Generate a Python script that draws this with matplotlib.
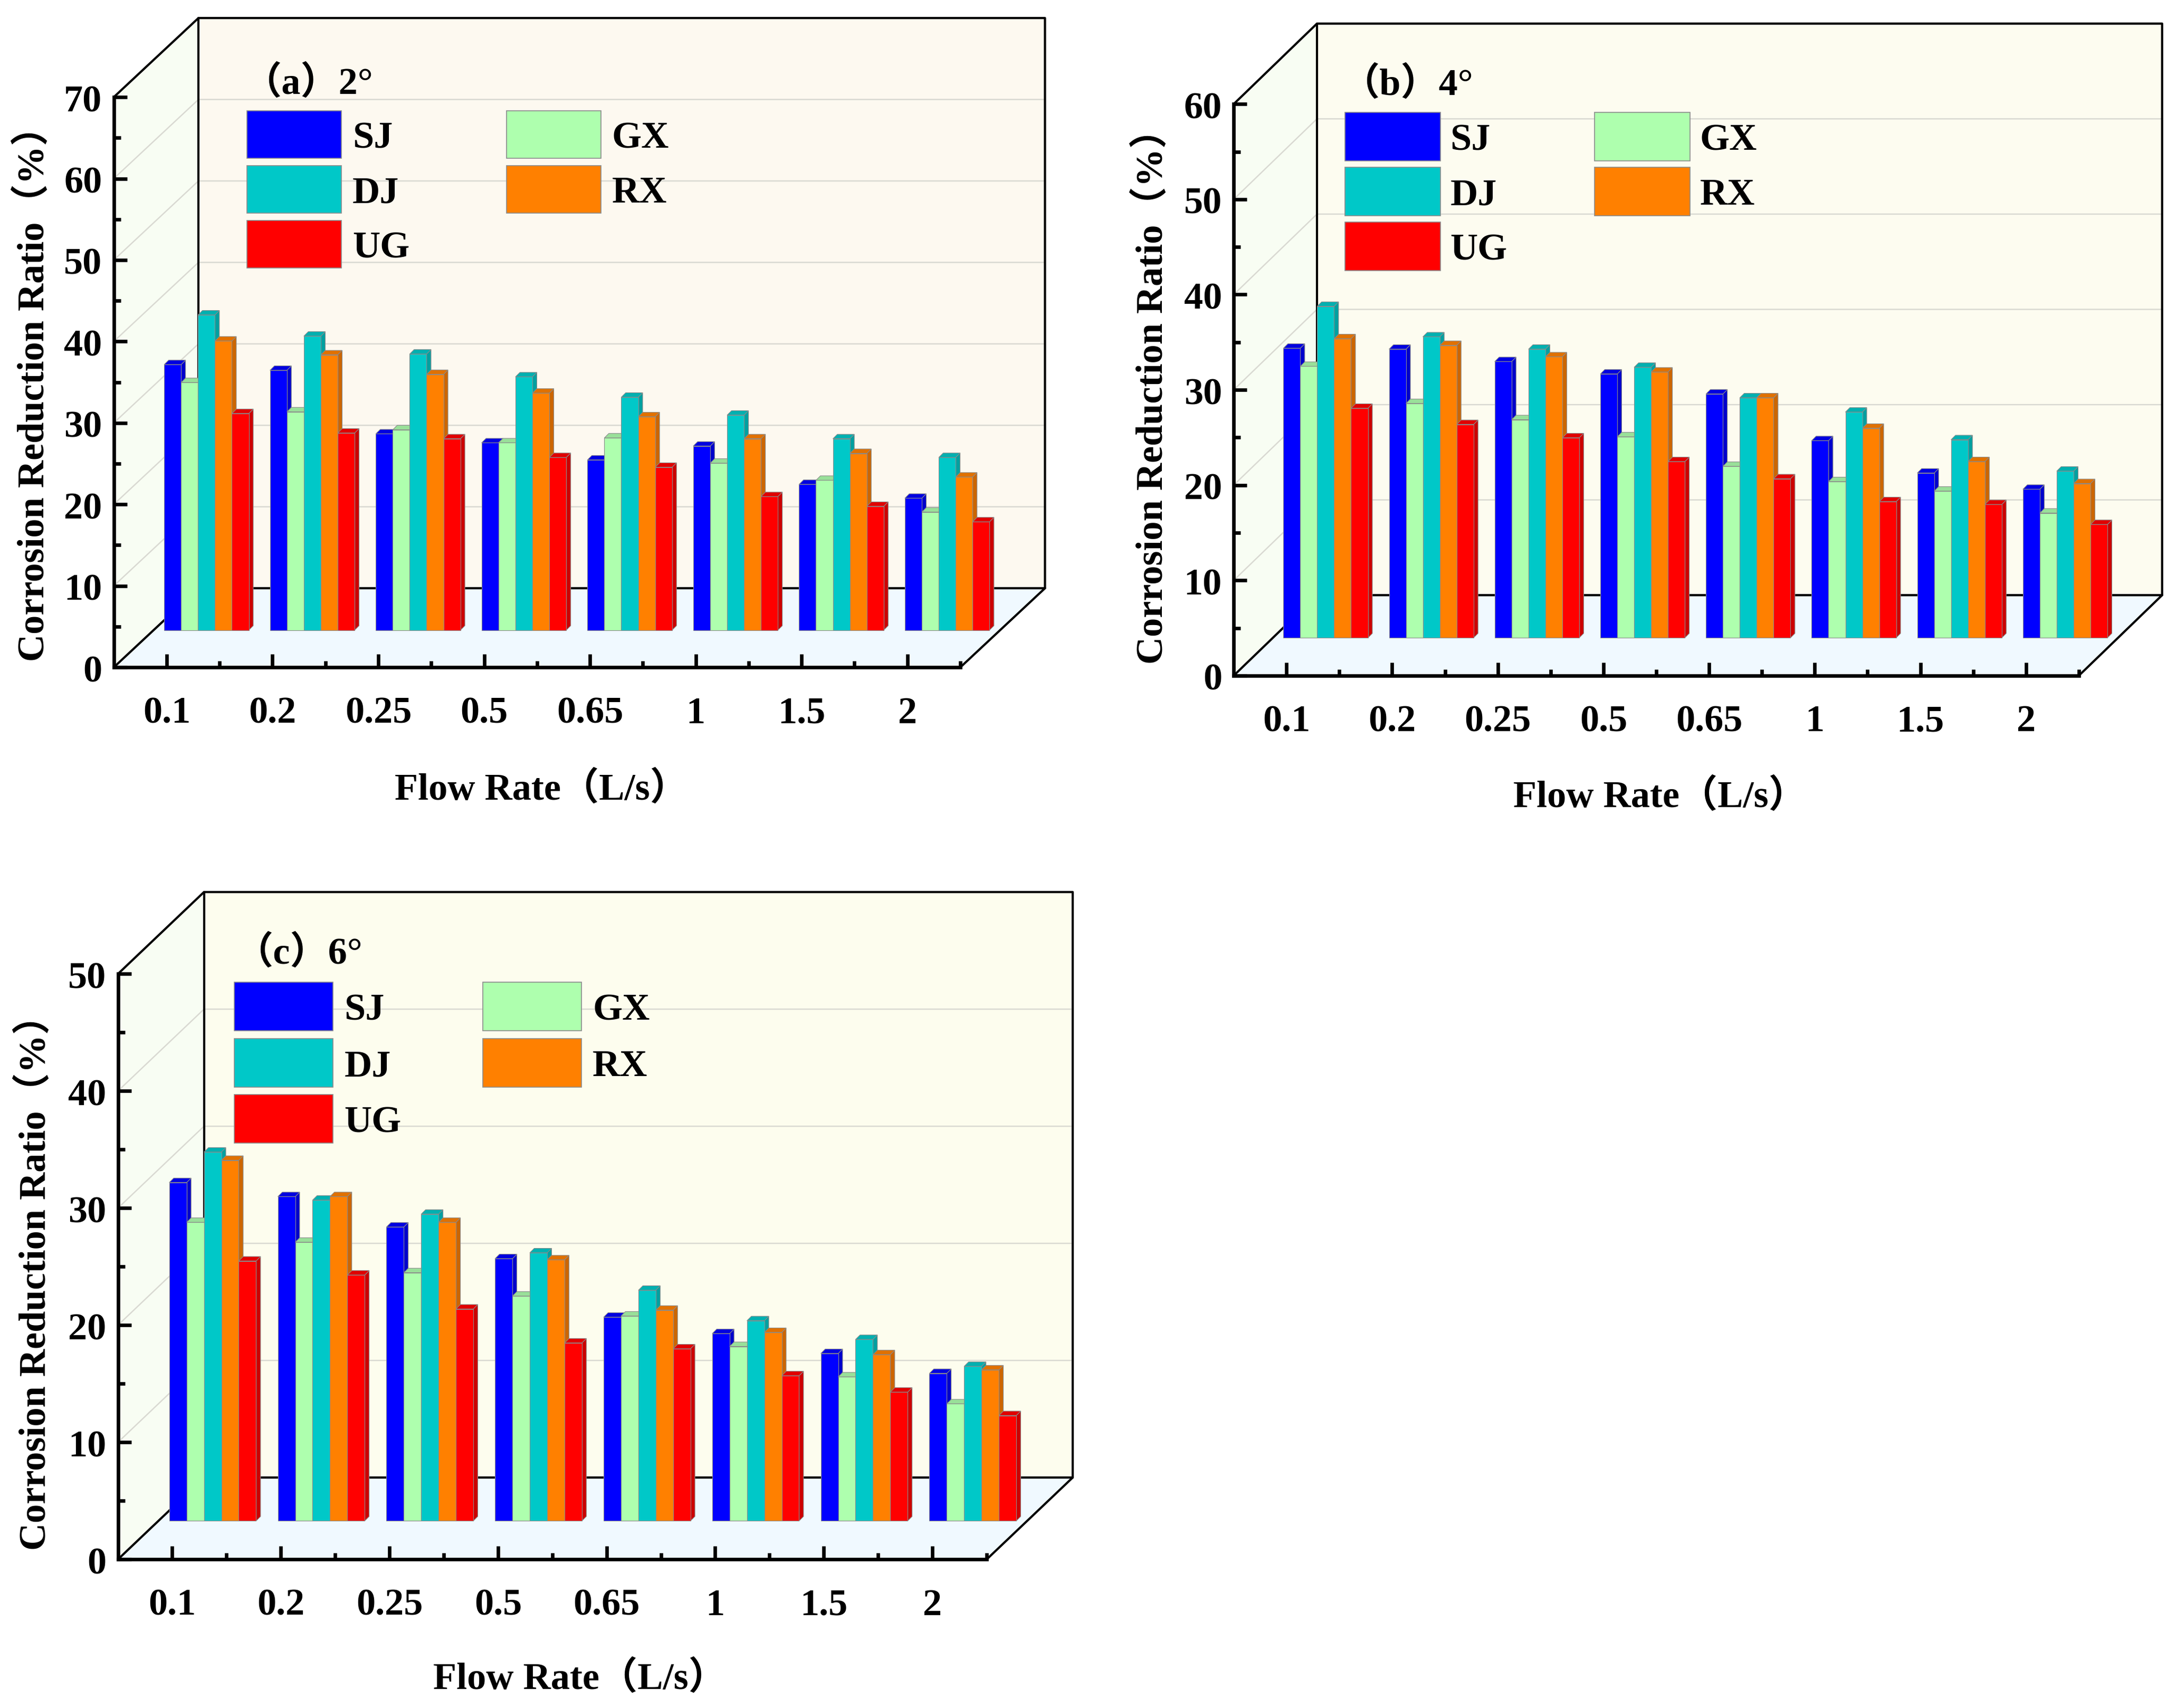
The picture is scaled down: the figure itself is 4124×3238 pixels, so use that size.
"""Corrosion reduction ratio vs flow rate, three pseudo-3D bar panels."""
import matplotlib
matplotlib.use("Agg")
import matplotlib.pyplot as plt
from matplotlib.patches import Polygon, Rectangle
from matplotlib.transforms import Affine2D
from matplotlib.colors import to_rgb

plt.rcParams["font.family"] = ["Liberation Serif", "Noto Sans CJK SC"]

flow_rates = ["0.1", "0.2", "0.25", "0.5", "0.65", "1", "1.5", "2"]
series_names = ["SJ", "GX", "DJ", "RX", "UG"]

sj_a = [32.6, 31.9, 24.1, 23.0, 20.9, 22.6, 17.9, 16.2]
gx_a = [30.4, 26.8, 24.6, 23.0, 23.6, 20.5, 18.4, 14.5]
dj_a = [38.7, 36.1, 33.9, 31.1, 28.6, 26.4, 23.5, 21.2]
rx_a = [35.5, 33.8, 31.4, 29.1, 26.2, 23.5, 21.7, 18.8]
ug_a = [26.6, 24.2, 23.5, 21.2, 20.0, 16.4, 15.2, 13.3]

sj_b = [30.4, 30.3, 29.0, 27.7, 25.6, 20.7, 17.3, 15.6]
gx_b = [28.5, 24.6, 22.9, 21.1, 18.0, 16.4, 15.4, 13.1]
dj_b = [34.8, 31.6, 30.3, 28.4, 25.2, 23.7, 20.8, 17.5]
rx_b = [31.4, 30.7, 29.5, 27.9, 25.2, 22.0, 18.5, 16.2]
ug_b = [24.1, 22.4, 21.0, 18.5, 16.7, 14.3, 14.0, 11.9]

sj_c = [28.9, 27.7, 25.1, 22.4, 17.4, 16.0, 14.3, 12.6]
gx_c = [25.5, 23.8, 21.2, 19.2, 17.5, 14.9, 12.3, 10.0]
dj_c = [31.5, 27.4, 26.2, 22.9, 19.7, 17.1, 15.5, 13.2]
rx_c = [30.8, 27.7, 25.5, 22.3, 18.0, 16.1, 14.2, 12.9]
ug_c = [22.2, 21.0, 18.1, 15.2, 14.7, 12.4, 11.0, 9.0]

COLOURS = {"SJ": "#0000ff", "GX": "#aeffae", "DJ": "#00c8c8",
           "RX": "#ff8000", "UG": "#ff0000"}
SIDE_WALL = "#f8fdf3"
FLOOR = "#f0f9ff"
GRID = "#d9d9d2"

# layout below is in units of a 1568 px wide preview, y pointing down
W, H = 4124, 3238
S = W / 1568
BAR_W = 0.16
CAP = 3.2


def darker(colour, k=0.8):
    return tuple(c * k for c in to_rgb(colour))


fig = plt.figure(figsize=(W / 200, H / 200), dpi=200, facecolor="white")
page = Affine2D().scale(S, -S).translate(0, H)


def draw_panel(title, values, ymax, x0, x1, y0, ytop, back_dx, back_dy, wall,
               legend, title_xy, ylab_xy, xlab_xy):
    ax = fig.add_axes([x0 * S / W, 1 - y0 * S / H, (x1 - x0) * S / W, (y0 - ytop) * S / H])
    ax.patch.set_visible(False)
    ax.set_xlim(0.5, 8.5)
    ax.set_ylim(0, ymax)
    ux = 8 / (x1 - x0)
    uy = ymax / (y0 - ytop)
    bx, by = back_dx * ux, back_dy * uy
    xa, xb = 0.5, 8.5

    def poly(pts, **kw):
        ax.add_patch(Polygon(pts, closed=True, clip_on=False, **kw))

    # walls and floor
    poly([(xa + bx, by), (xb + bx, by), (xb + bx, ymax + by), (xa + bx, ymax + by)],
         facecolor=wall, edgecolor="none", zorder=0.5)
    poly([(xa, 0), (xa + bx, by), (xa + bx, ymax + by), (xa, ymax)],
         facecolor=SIDE_WALL, edgecolor="none", zorder=0.5)
    poly([(xa, 0), (xb, 0), (xb + bx, by), (xa + bx, by)],
         facecolor=FLOOR, edgecolor="none", zorder=0.5)

    for v in range(10, ymax + 1, 10):
        ax.plot([xa, xa + bx, xb + bx], [v, v + by, v + by], color=GRID, lw=0.9,
                clip_on=False, zorder=0.6)

    outline = dict(color="black", lw=1.5, clip_on=False, zorder=0.7, solid_capstyle="round")
    ax.plot([xa, xa + bx, xb + bx, xb + bx], [ymax, ymax + by, ymax + by, by], **outline)
    ax.plot([xa + bx, xa + bx], [by, ymax + by], **outline)
    ax.plot([xa, xa + bx, xb + bx, xb], [0, by, by, 0], **outline)

    # bars sit half way into the floor
    ox, oy = 0.47 * bx, 0.47 * by
    cx, cy = CAP * ux, CAP * uy
    for j in range(len(flow_rates)):
        for i, name in enumerate(series_names):
            h = values[i][j]
            left = j + 1 - 2.5 * BAR_W + i * BAR_W + ox
            right = left + BAR_W
            top = oy + h
            col = COLOURS[name]
            z = 3 + j + i * 0.1
            edge = dict(edgecolor="#8a8a8a", linewidth=0.4, zorder=z)
            poly([(right, oy), (right + cx, oy + cy), (right + cx, top + cy), (right, top)],
                 facecolor=darker(col), **edge)
            poly([(left, top), (right, top), (right + cx, top + cy), (left + cx, top + cy)],
                 facecolor=darker(col, 0.88), **edge)
            ax.bar(left, h, BAR_W, bottom=oy, align="edge", color=col, clip_on=False, **edge)

    ax.set_xlim(0.5, 8.5)
    ax.set_ylim(0, ymax)
    for side in ("top", "right"):
        ax.spines[side].set_visible(False)
    for side in ("left", "bottom"):
        ax.spines[side].set_linewidth(2.4)
    ax.set_xticks(range(1, 9))
    ax.set_xticklabels(flow_rates, fontweight="bold")
    ax.set_xticks([k + 0.5 for k in range(1, 9)], minor=True)
    ax.set_yticks(range(0, ymax + 1, 10))
    ax.set_yticks(range(5, ymax, 10), minor=True)
    ax.tick_params(which="major", direction="in", length=9, width=2.4, labelsize=26)
    ax.tick_params(which="minor", direction="in", length=4.5, width=2.4)
    ax.tick_params(axis="x", which="major", pad=20)
    ax.tick_params(axis="y", which="major", pad=8)
    for lab in ax.get_yticklabels():
        lab.set_fontweight("bold")
        lab.set_transform(lab.get_transform() + Affine2D().translate(0, -2))

    # legend, drawn by hand so the two columns keep their uneven fill
    (lx1, lx2, lw, ly, lh, lstep, tx_off) = legend
    slots = {"SJ": (lx1, 0), "DJ": (lx1, 1), "UG": (lx1, 2), "GX": (lx2, 0), "RX": (lx2, 1)}
    for name, (lx, row) in slots.items():
        fig.add_artist(Rectangle((lx, ly + row * lstep), lw, lh, transform=page,
                                 facecolor=COLOURS[name], edgecolor="#8a8a8a", linewidth=0.6))
        fig.text(lx + lw + tx_off, ly + row * lstep + lh / 2 + 3, name, transform=page, ha="left",
                 va="center", fontsize=26, fontweight="bold", zorder=10)

    fig.text(*title_xy, title, transform=page, ha="center", va="center",
             fontsize=26, fontweight="bold", zorder=10)
    fig.text(*ylab_xy, "Corrosion Reduction Ratio（%）", transform=page, rotation=90,
             ha="center", va="center", fontsize=26, fontweight="bold")
    fig.text(*xlab_xy, "Flow Rate（L/s）", transform=page, ha="center", va="center",
             fontsize=26, fontweight="bold")


draw_panel("（a）2°", [sj_a, gx_a, dj_a, rx_a, ug_a], 70, 82, 692, 481, 70, 61, 57, "#fdf9f0",
           (178, 365, 68, 80, 34, 39.5, 8), (222, 60), (24, 277), (390, 569))
draw_panel("（b）4°", [sj_b, gx_b, dj_b, rx_b, ug_b], 60, 889, 1498, 487, 75, 60, 58, "#fdfcf0",
           (969, 1149, 69, 81, 35, 39.5, 7), (1014, 61), (830, 279), (1196, 574))
draw_panel("（c）6°", [sj_c, gx_c, dj_c, rx_c, ug_c], 50, 85, 711, 1124, 702, 62, 59, "#fdfdee",
           (169, 348, 71, 708, 35, 40.5, 8), (215, 687), (25, 918), (418, 1210))

fig.savefig("out.png", dpi=200)
